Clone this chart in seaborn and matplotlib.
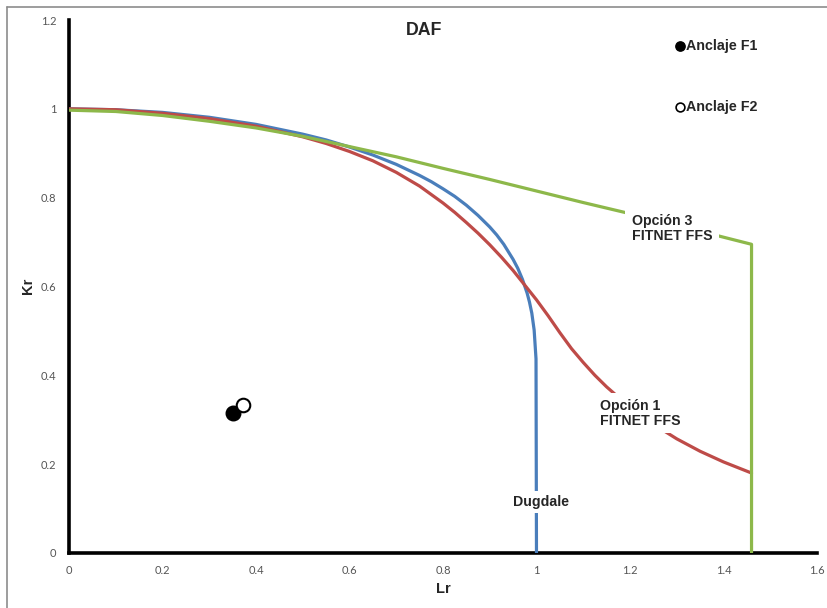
import matplotlib
matplotlib.use("Agg")
import matplotlib.pyplot as plt
import seaborn as sns
from matplotlib.lines import Line2D

# ---- data ----
dug_lr = [0, 0.1, 0.2, 0.3, 0.4, 0.5, 0.55, 0.6, 0.65, 0.7, 0.75, 0.775, 0.8, 0.825,
          0.85, 0.875, 0.9, 0.915, 0.93, 0.95, 0.96, 0.97, 0.98, 0.985, 0.99, 0.995,
          0.999, 1.0]
dug_kr = [1.0, 0.998, 0.992, 0.981, 0.965, 0.943, 0.930, 0.914, 0.896, 0.875, 0.850,
          0.836, 0.820, 0.803, 0.783, 0.760, 0.734, 0.716, 0.695, 0.661, 0.641, 0.616,
          0.585, 0.565, 0.540, 0.502, 0.437, 0.0]

op1_lr = [0, 0.1, 0.2, 0.3, 0.4, 0.5, 0.55, 0.6, 0.65, 0.7, 0.75, 0.8, 0.825, 0.85,
          0.875, 0.9, 0.925, 0.95, 0.975, 1.0, 1.025, 1.05, 1.075, 1.1, 1.125, 1.15,
          1.2, 1.25, 1.3, 1.35, 1.4, 1.46]
op1_kr = [1.0, 0.998, 0.990, 0.978, 0.961, 0.937, 0.922, 0.904, 0.883, 0.857, 0.826,
          0.788, 0.767, 0.744, 0.720, 0.694, 0.666, 0.636, 0.603, 0.570, 0.534, 0.496,
          0.460, 0.429, 0.400, 0.374, 0.328, 0.290, 0.257, 0.229, 0.205, 0.180]

op3_lr = [0, 0.1, 0.2, 0.3, 0.4, 0.5, 0.6, 0.7, 0.8, 0.9, 1.0, 1.1, 1.2, 1.3, 1.4,
          1.46, 1.46]
op3_kr = [0.997, 0.994, 0.985, 0.972, 0.957, 0.938, 0.915, 0.892, 0.866, 0.841, 0.815,
          0.789, 0.764, 0.738, 0.711, 0.695, 0.0]

f1_lr, f1_kr = [0.351], [0.315]
f2_lr, f2_kr = [0.372], [0.333]
x_ticks = [0, 0.2, 0.4, 0.6, 0.8, 1, 1.2, 1.4, 1.6]
x_tick_labels = ["0", "0.2", "0.4", "0.6", "0.8", "1", "1.2", "1.4", "1.6"]
y_ticks = [0, 0.2, 0.4, 0.6, 0.8, 1, 1.2]
y_tick_labels = ["0", "0.2", "0.4", "0.6", "0.8", "1", "1.2"]

BLUE = "#4A7EBB"
RED = "#BE4B48"
GREEN = "#8DB84A"

sns.set_style("white")
plt.rcParams["font.family"] = ["Liberation Sans", "DejaVu Sans"]

fig = plt.figure(figsize=(8.28, 6.08), dpi=100)
ax = fig.add_axes([0.0833, 0.0905, 0.9034, 0.8766])

lw = 2.3
sns.lineplot(x=dug_lr, y=dug_kr, ax=ax, color=BLUE, lw=lw, sort=False, estimator=None, zorder=3)
sns.lineplot(x=op1_lr, y=op1_kr, ax=ax, color=RED, lw=lw, sort=False, estimator=None, zorder=3)
sns.lineplot(x=op3_lr, y=op3_kr, ax=ax, color=GREEN, lw=lw, sort=False, estimator=None, zorder=3)

sns.scatterplot(x=f1_lr, y=f1_kr, ax=ax, color="black", s=110, edgecolor="black", linewidth=1, zorder=5)
sns.scatterplot(x=f2_lr, y=f2_kr, ax=ax, color="white", s=95, edgecolor="black", linewidth=1.5, zorder=5)

# legend-like labels inside plot
sns.scatterplot(x=[1.308], y=[1.142], ax=ax, color="black", s=45, edgecolor="black", linewidth=1, zorder=5)
sns.scatterplot(x=[1.308], y=[1.004], ax=ax, color="white", s=40, edgecolor="black", linewidth=1.2, zorder=5)
ax.text(1.320, 1.142, "Anclaje F1", fontsize=10.3, fontweight="bold", va="center", ha="left")
ax.text(1.320, 1.004, "Anclaje F2", fontsize=10.3, fontweight="bold", va="center", ha="left")

lab_fs = 10.2
ax.text(1.204, 0.731, "Opción 3\nFITNET FFS", fontsize=lab_fs, fontweight="bold",
        va="center", ha="left", linespacing=1.1,
        bbox=dict(facecolor="white", edgecolor="none", pad=5), zorder=6)
ax.text(1.136, 0.315, "Opción 1\nFITNET FFS", fontsize=lab_fs, fontweight="bold",
        va="center", ha="left", linespacing=1.1,
        bbox=dict(facecolor="white", edgecolor="none", pad=4), zorder=6)
ax.text(1.0086, 0.115, "Dugdale", fontsize=lab_fs, fontweight="bold",
        va="center", ha="center", bbox=dict(facecolor="white", edgecolor="none", pad=3), zorder=6)

ax.text(0.759, 1.176, "DAF", fontsize=12.8, fontweight="bold", va="center", ha="center")

ax.set_xlim(0, 1.6)
ax.set_ylim(0, 1.2)
ax.set_xticks(x_ticks)
ax.set_xticklabels(x_tick_labels)
ax.set_yticks(y_ticks)
ax.set_yticklabels(y_tick_labels)
ax.tick_params(axis="both", which="major", length=3, width=2, direction="out",
               labelsize=8, labelcolor="#555555", color="black", pad=6)
for lab in ax.get_xticklabels() + ax.get_yticklabels():
    lab.set_family(["Lato", "DejaVu Sans"])

for side in ["top", "right"]:
    ax.spines[side].set_visible(False)
for side in ["left", "bottom"]:
    ax.spines[side].set_linewidth(2.6)
    ax.spines[side].set_color("black")

ax.set_xlabel("Lr", fontsize=10.5, fontweight="bold")
ax.xaxis.set_label_coords(0.5, -0.055)
ax.set_ylabel("Kr", fontsize=10.5, fontweight="bold")
ax.yaxis.set_label_coords(-0.045, 0.501)
ax.grid(False)

# outer chart frame (only top and left edges visible in the reference)
fig.add_artist(Line2D([7 / 828, 1.0], [1 - 6.5 / 608] * 2, transform=fig.transFigure,
                      color="#8c8c8c", lw=1.2))
fig.add_artist(Line2D([7 / 828] * 2, [0.0, 1 - 6.5 / 608], transform=fig.transFigure,
                      color="#8c8c8c", lw=1.2))

fig.savefig("out.png", dpi=100)
